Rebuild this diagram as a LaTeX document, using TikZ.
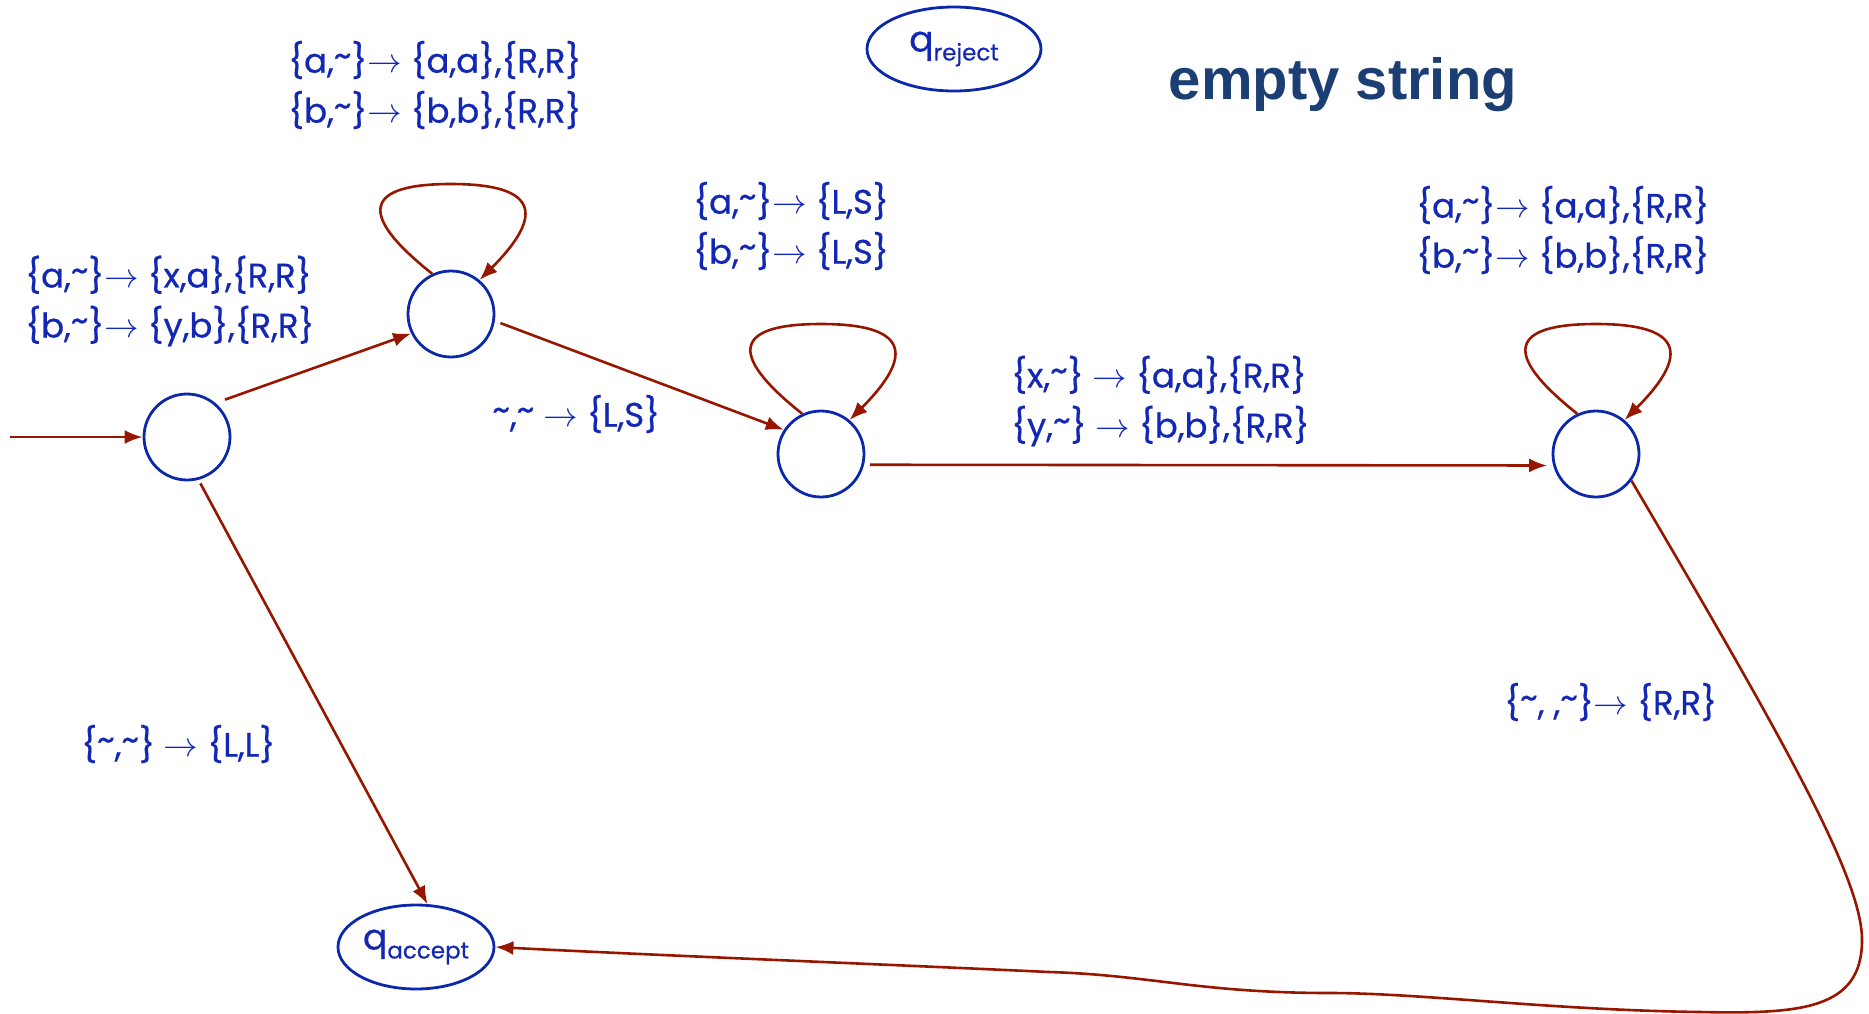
\documentclass[tikz,border=0pt]{standalone}
\usepackage{fontspec}
\setmainfont{Poppins}[FakeBold=0.6]
\newfontfamily\headfont{Liberation Sans}
\usepackage{xcolor}
\usepackage{tikz}
\usetikzlibrary{shapes.geometric, arrows.meta, positioning, calc}

\definecolor{stateblue}{RGB}{12,40,170}
\definecolor{ruleblue}{RGB}{18,40,180}
\definecolor{edgered}{RGB}{150,22,0}
\definecolor{headblue}{RGB}{27,62,115}

\newcommand{\tld}{\raisebox{.3ex}{\textasciitilde}}
\newcommand{\toarr}{$\rightarrow$}
\newcommand{\qsub}[1]{q\raisebox{-.45ex}{\fontsize{11.5}{11.5}\selectfont #1}}

\begin{document}
\begin{tikzpicture}[
  x=0.5pt, y=-0.5pt,
  state/.style={circle, draw=stateblue, line width=1.4pt, minimum size=43pt, inner sep=0pt},
  halt/.style={ellipse, draw=stateblue, line width=1.4pt, inner sep=0pt,
               minimum height=42pt, text=ruleblue, font=\fontsize{18}{18}\selectfont},
  rule/.style={anchor=west, align=left, inner sep=0pt, text=ruleblue,
               font=\fontsize{17}{25}\selectfont},
  arrow/.style={-{Latex[length=9pt,width=7pt]}, line width=1.3pt, draw=edgered}
]
\useasboundingbox (0,0) rectangle (1869,1013);

\node[state] (q0) at (187,437) {};
\node[state] (q1) at (451,314) {};
\node[state] (q2) at (821,454) {};
\node[state] (q3) at (1596,454) {};
\node[halt, minimum width=87pt] (qreject) at (954,49) {\qsub{reject}};
\node[halt, minimum width=78pt] (qaccept) at (416,947) {\qsub{accept}};
\coordinate (init) at (10,437);

\node[anchor=base, text=headblue, font=\headfont\bfseries\fontsize{29}{29}\selectfont] (title) at (1343,99) {empty string};

% transition labels
\node[rule] (copylbl) at (288,85) {\{a,\tld\}\toarr\ \{a,a\},\{R,R\}\\\{b,\tld\}\toarr\ \{b,b\},\{R,R\}};
\node[rule] (marklbl) at (25,301) {\{a,\tld\}\toarr\ \{x,a\},\{R,R\}\\\{b,\tld\}\toarr\ \{y,b\},\{R,R\}};
\node[rule] (backlbl) at (693,226) {\{a,\tld\}\toarr\ \{L,S\}\\\{b,\tld\}\toarr\ \{L,S\}};
\node[rule] (turnlbl) at (492,414) {\tld,\tld\ \toarr\ \{L,S\}};
\node[rule] (matchlbl) at (1416,230) {\{a,\tld\}\toarr\ \{a,a\},\{R,R\}\\\{b,\tld\}\toarr\ \{b,b\},\{R,R\}};
\node[rule] (startlbl) at (1011,401) {\{x,\tld\} \toarr\ \{a,a\},\{R,R\}\\\{y,\tld\} \toarr\ \{b,b\},\{R,R\}};
\node[rule] (emptylbl) at (81,744) {\{\tld,\tld\} \toarr\ \{L,L\}};
\node[rule] (donelbl) at (1504,702) {\{\tld, ,\tld\}\toarr\ \{R,R\}};

% straight arrows
\draw[arrow] (init) -- (q0);
\draw[arrow, shorten <=5pt] (q0.50) -- (q1.206);
\draw[arrow, shorten <=3pt] (q1.-9) -- (q2.147);
\draw[arrow, shorten <=3pt, shorten >=3pt] (q2.-14) -- (q3.195);
\draw[arrow, shorten <=2pt] (q0.-75) -- (qaccept.75);

% self loops
\draw[arrow] (q1.115) .. controls +(-77,-61) and +(-85,0) .. ($(q1)+(0,-130)$) .. controls +(85,0) and +(67,-67) .. (q1.50);
\draw[arrow] (q2.115) .. controls +(-77,-61) and +(-85,0) .. ($(q2)+(0,-130)$) .. controls +(85,0) and +(67,-67) .. (q2.50);
\draw[arrow] (q3.115) .. controls +(-77,-61) and +(-85,0) .. ($(q3)+(0,-130)$) .. controls +(85,0) and +(67,-67) .. (q3.50);

% long way round to accept
\draw[arrow] (q3.-37) .. controls (1790,750) and (1862,880) .. (1862,940)
  .. controls (1862,1010) and (1800,1014) .. (1700,1012)
  .. controls (1550,1010) and (1420,993) .. (1330,993)
  .. controls (1200,993) and (1150,975) .. (1049,972)
  .. controls (900,965) and (650,955) .. (qaccept.east);
\end{tikzpicture}
\end{document}
